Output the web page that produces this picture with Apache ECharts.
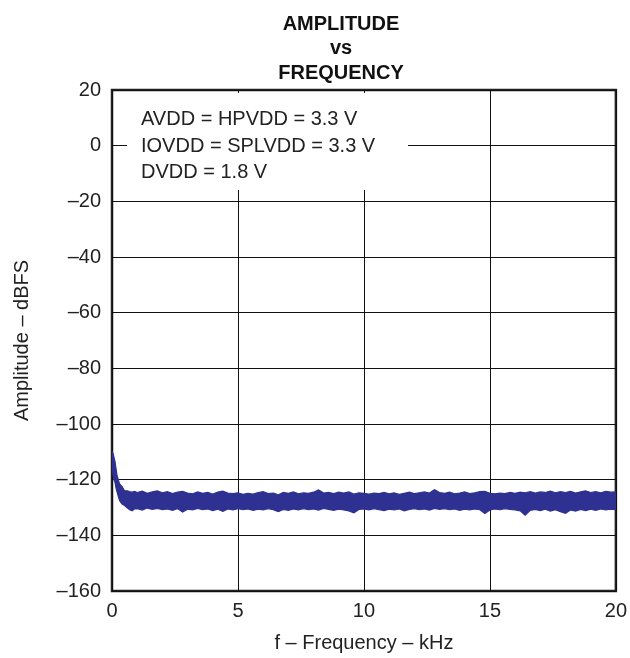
<!DOCTYPE html>
<html>
<head>
<meta charset="utf-8">
<script src="https://cdn.jsdelivr.net/npm/echarts@6/dist/echarts.min.js"></script>
<style>
html,body{margin:0;padding:0;background:#fff;}
#chart{width:630px;height:658px;}
</style>
</head>
<body>
<div id="chart"></div>
<script>
// Frequency points (kHz)
const freq = [0, 0.04, 0.08, 0.12, 0.16, 0.2, 0.25, 0.3, 0.35, 0.4, 0.5, 0.6, 0.7, 0.8, 0.9,
  1.0, 1.2, 1.4, 1.6, 1.8, 2.0, 2.2, 2.4, 2.6, 2.8, 3.0, 3.2, 3.4, 3.6, 3.8, 4.0, 4.2, 4.4, 4.6, 4.8,
  5.0, 5.2, 5.4, 5.6, 5.8, 6.0, 6.2, 6.4, 6.6, 6.8, 7.0, 7.2, 7.4, 7.6, 7.8, 8.0, 8.2, 8.4, 8.6, 8.8,
  9.0, 9.2, 9.4, 9.6, 9.8, 10.0, 10.2, 10.4, 10.6, 10.8, 11.0, 11.2, 11.4, 11.6, 11.8, 12.0, 12.2, 12.4, 12.6, 12.8,
  13.0, 13.2, 13.4, 13.6, 13.8, 14.0, 14.2, 14.4, 14.6, 14.8, 15.0, 15.2, 15.4, 15.6, 15.8, 16.0, 16.2, 16.4, 16.6, 16.8,
  17.0, 17.2, 17.4, 17.6, 17.8, 18.0, 18.2, 18.4, 18.6, 18.8, 19.0, 19.2, 19.4, 19.6, 19.8, 20.0];

// Upper envelope of the noise floor (dBFS)
const upperDb = [-110, -110.5, -112, -113.5, -116, -118.5, -120, -121.5, -122, -122.5, -124, -124, -124.3, -124.5, -124.2,
  -124.6, -124.1, -124.9, -124.4, -124.0, -124.7, -124.3, -125.0, -124.5, -124.2, -124.8, -125.1, -124.4, -124.9, -124.6, -125.2, -124.5, -124.1, -124.8, -125.0,
  -124.7, -125.3, -124.9, -125.2, -124.6, -124.3, -125.0, -124.8, -125.4, -124.6, -124.9, -124.4, -125.1, -124.7, -124.9, -124.5, -123.7, -124.8, -124.6, -125.0,
  -124.5, -124.8, -124.4, -125.2, -124.7, -124.9, -125.2, -124.8, -125.0, -124.6, -125.1, -124.7, -125.3, -124.9, -124.5, -125.0, -124.7, -124.4, -124.8, -123.6,
  -124.6, -124.9, -124.5, -125.1, -124.8, -124.4, -125.0, -124.7, -124.3, -124.2, -124.9, -125.1, -124.8, -125.0, -124.6, -124.9, -124.5, -124.7, -124.3, -124.8,
  -124.4, -124.6, -124.1, -124.7, -124.3, -124.6, -124.2, -124.8, -124.4, -124.0, -124.6, -124.3, -124.7, -124.2, -124.5, -124.4];

// Lower envelope of the noise floor (dBFS)
const lowerDb = [-116, -118, -120, -121, -123, -124.5, -126, -127.5, -128.2, -128.8, -129.3, -130.1, -130.8, -131.2, -130.5,
  -130.4, -130.9, -130.2, -130.7, -130.3, -130.8, -130.5, -131.0, -130.4, -131.6, -130.6, -130.9, -130.3, -130.8, -130.5, -131.1, -130.6, -131.4, -130.5, -130.9,
  -130.4, -130.8, -130.5, -131.0, -130.6, -130.9, -130.4, -130.8, -131.5, -130.7, -131.0, -130.5, -130.9, -130.4, -130.8, -130.5, -130.9, -130.3, -130.7, -131.0,
  -130.6, -130.9, -131.2, -131.9, -130.7, -130.5, -130.9, -130.4, -130.8, -131.1, -130.6, -130.9, -130.5, -131.2, -130.7, -130.4, -130.8, -130.5, -130.9, -130.3,
  -130.7, -130.4, -130.8, -130.5, -131.0, -130.6, -130.9, -130.5, -130.8, -132.2, -130.9, -130.5, -130.8, -130.4, -130.7, -130.9, -131.2, -132.8, -131.0, -130.7,
  -131.1, -130.6, -131.3, -130.8, -131.5, -132.1, -130.9, -131.3, -130.7, -131.1, -130.6, -131.0, -130.5, -130.9, -130.6, -130.8];

const xTicks = [0, 5, 10, 15, 20];
const yTicks = [-160, -140, -120, -100, -80, -60, -40, -20, 0, 20];
const titleLines = ['AMPLITUDE', 'vs', 'FREQUENCY'];
const noteLines = ['AVDD = HPVDD = 3.3 V', 'IOVDD = SPLVDD = 3.3 V', 'DVDD = 1.8 V'];

const FONT = "'Liberation Sans', Arial, Helvetica, sans-serif";
const NAVY = '#2e3192';
const fmt = v => String(v).replace('-', '\u2013');

const bandData = freq.map((f, i) => [f, upperDb[i], lowerDb[i]]);

function renderBand(params, api) {
  if (params.dataIndex !== 0) return null;
  const pts = [];
  for (let i = 0; i < bandData.length; i++) pts.push(api.coord([bandData[i][0], bandData[i][1]]));
  for (let i = bandData.length - 1; i >= 0; i--) pts.push(api.coord([bandData[i][0], bandData[i][2]]));
  return {
    type: 'polygon',
    shape: {points: pts},
    style: {fill: NAVY, stroke: NAVY, lineWidth: 1.2, lineJoin: 'miter'}
  };
}

const chart = echarts.init(document.getElementById('chart'), null, {renderer: 'canvas'});
chart.setOption({
  animation: false,
  backgroundColor: '#fff',
  title: {
    text: titleLines.join('\n'),
    left: 336,
    top: 7,
    textAlign: 'center',
    textStyle: {fontFamily: FONT, fontSize: 20, fontWeight: 'bold', color: '#111', lineHeight: 24.5}
  },
  grid: {left: 112, right: 12, top: 90, bottom: 63, show: true, borderColor: '#222', borderWidth: 2.5, backgroundColor: 'transparent', containLabel: false},
  xAxis: {
    type: 'value', min: xTicks[0], max: xTicks[xTicks.length - 1], interval: 5,
    name: 'f \u2013 Frequency \u2013 kHz', nameLocation: 'middle', nameGap: 42,
    nameTextStyle: {fontFamily: FONT, fontSize: 20, color: '#222'},
    axisLine: {show: false}, axisTick: {show: false},
    axisLabel: {fontFamily: FONT, fontSize: 20, color: '#222', margin: 10, formatter: fmt},
    splitLine: {show: true, lineStyle: {color: '#111', width: 1}}
  },
  yAxis: {
    type: 'value', min: yTicks[0], max: yTicks[yTicks.length - 1], interval: 20,
    name: 'Amplitude \u2013 dBFS', nameLocation: 'middle', nameGap: 80,
    nameTextStyle: {fontFamily: FONT, fontSize: 20, color: '#222'},
    axisLine: {show: false}, axisTick: {show: false},
    axisLabel: {fontFamily: FONT, fontSize: 20, color: '#222', margin: 11, formatter: fmt},
    splitLine: {show: true, lineStyle: {color: '#111', width: 1}}
  },
  graphic: [
    {type: 'rect', z: 50, shape: {x: 127, y: 93, width: 281, height: 97}, style: {fill: '#fff'}},
    {type: 'text', z: 51, x: 141, y: 119.5, style: {text: noteLines[0], font: '20px ' + FONT, fill: '#222', verticalAlign: 'middle'}},
    {type: 'text', z: 51, x: 141, y: 146.2, style: {text: noteLines[1], font: '20px ' + FONT, fill: '#222', verticalAlign: 'middle'}},
    {type: 'text', z: 51, x: 141, y: 172.9, style: {text: noteLines[2], font: '20px ' + FONT, fill: '#222', verticalAlign: 'middle'}}
  ],
  series: [
    {type: 'custom', data: bandData, renderItem: renderBand, encode: {x: 0, y: [1, 2]}, clip: true, z: 3}
  ]
});
</script>
</body>
</html>
